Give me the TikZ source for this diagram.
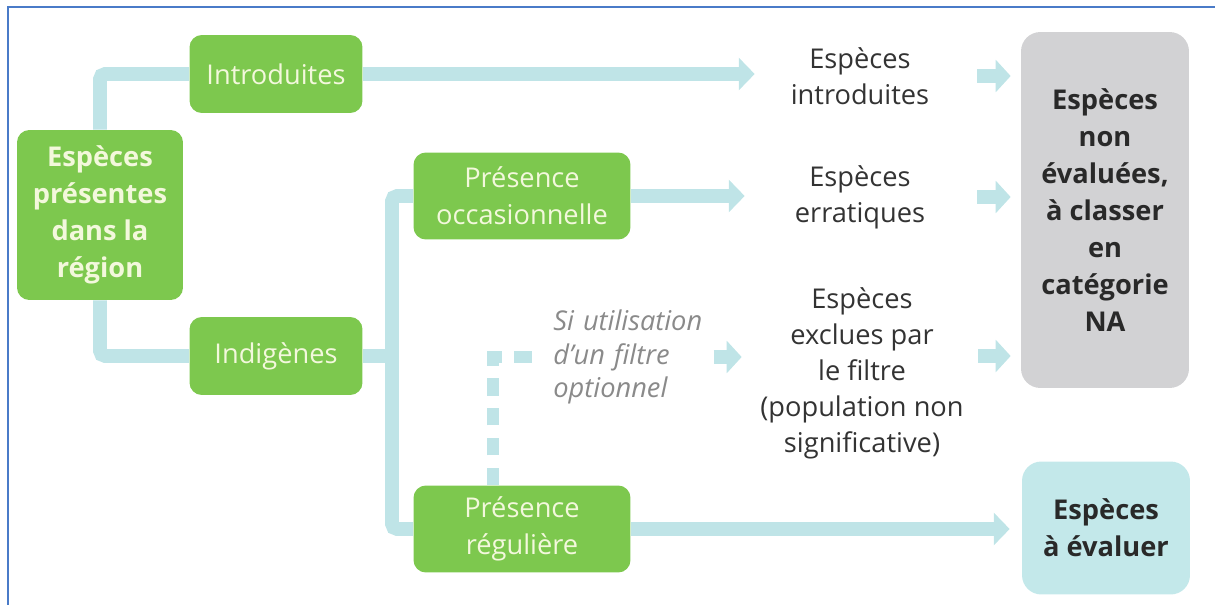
\documentclass[tikz,border=0pt]{standalone}
\usepackage{fontspec}
\setmainfont{Open Sans}
\usetikzlibrary{arrows.meta,positioning}
\definecolor{leaf}{HTML}{7DC84E}
\definecolor{leaftext}{HTML}{F3F8DC}
\definecolor{pipe}{HTML}{BFE4E7}
\definecolor{nagray}{HTML}{D2D2D4}
\definecolor{evalblue}{HTML}{C3E8EA}
\definecolor{framebl}{HTML}{4A7BC8}
\definecolor{ink}{HTML}{333333}
\definecolor{hint}{HTML}{8A8A8A}

\begin{document}
\begin{tikzpicture}[x=0.02cm,y=-0.02cm,
  greenbox/.style={rectangle, rounded corners=7pt, fill=leaf, text=leaftext,
    align=center, font=\fontsize{15.5}{21}\selectfont,
    minimum width=3.46cm, minimum height=1.56cm, inner sep=2pt},
  outcome/.style={align=center, text=ink, font=\fontsize{15.5}{20.5}\selectfont,
    minimum width=4.2cm, inner sep=0pt},
  finalbox/.style={rectangle, rounded corners=11pt, text=ink!80!black, align=center,
    font=\bfseries\fontsize{15.5}{21}\selectfont, minimum width=3.36cm},
  flow/.style={draw=pipe, line width=7.9pt, rounded corners=3pt},
  arrowflow/.style={flow, -{Triangle[length=9pt,width=18pt]}},
  stub/.style={draw=pipe, line width=8.5pt, -{Triangle[length=8.5pt,width=18pt]}},
  optflow/.style={draw=pipe, line width=7pt, dash pattern=on 10pt off 7pt}
]
  \useasboundingbox (0,0) rectangle (1215,605);
  \draw[framebl, line width=1.2pt] (8,605) -- (8,7) -- (1215,7);

  % boites vertes
  \node[greenbox, font=\bfseries\fontsize{15.5}{21}\selectfont,
    minimum width=3.32cm, minimum height=3.4cm] (root) at (100,215) {Espèces\\présentes\\dans la\\région};
  \node[greenbox] (intro) at (276,74) {Introduites};
  \node[greenbox] (indig) at (276,356) {Indigènes};
  \node[greenbox, minimum width=4.34cm, minimum height=1.74cm] (occ) at (522,196) {Présence\\occasionnelle};
  \node[greenbox, minimum width=4.34cm, minimum height=1.74cm] (reg) at (522,529) {Présence\\régulière};

  % textes
  \node[outcome] (tintro) at (860,76) {Espèces\\introduites};
  \node[outcome] (terr) at (860,197) {Espèces\\erratiques};
  \node[outcome] (texcl) at (862,373) {Espèces\\exclues par\\le filtre\\(population non\\significative)};
  \node[anchor=west, inner sep=0pt, text=hint, align=left, text width=3cm,
    font=\itshape\fontsize{15.5}{19}\selectfont] (filtre) at (553,357) {Si utilisation\\d'un filtre\\optionnel};

  % boites finales
  \node[finalbox, fill=nagray, minimum height=7.12cm] (na) at (1105,210) {Espèces\\non\\évaluées,\\à classer\\en\\catégorie\\NA};
  \node[finalbox, fill=evalblue, minimum height=2.66cm] (eval) at (1106,528) {Espèces\\à évaluer};

  % liaisons
  \draw[flow] (root.north) |- (intro.west);
  \draw[flow] (root.south) |- (indig.west);
  \coordinate (hub) at (392,356);
  \draw[flow] (indig.east) -- (hub);
  \draw[flow] (hub) |- (occ.west);
  \draw[flow] (hub) |- (reg.west);

  \draw[arrowflow] (intro.east) -- (intro.east -| tintro.west);
  \draw[arrowflow, shorten >=0.2cm] (occ.east) -- (occ.east -| terr.west);
  \draw[arrowflow, shorten >=0.24cm] (reg.east) -- (reg.east -| eval.west);

  \draw[optflow, shorten >=0.3cm] ([xshift=-0.58cm]reg.north) |- (filtre.west);
  \draw[stub, shorten <=0.2cm, shorten >=0.3cm] (filtre.east) -- (filtre.east -| texcl.west);

  \coordinate (exclout) at ([yshift=0.34cm]texcl.east);
  \draw[stub, shorten <=0.24cm, shorten >=0.2cm] (tintro.east) -- (tintro.east -| na.west);
  \draw[stub, shorten <=0.24cm, shorten >=0.2cm] (terr.east) -- (terr.east -| na.west);
  \draw[stub, shorten <=0.22cm, shorten >=0.2cm] (exclout) -- (exclout -| na.west);
\end{tikzpicture}
\end{document}
